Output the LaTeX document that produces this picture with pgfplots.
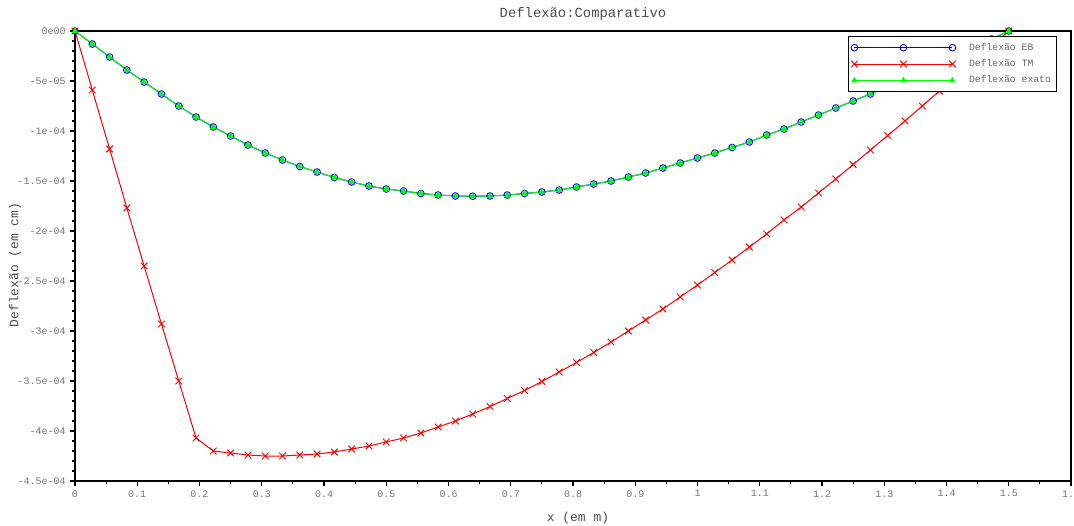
\documentclass[border=0pt]{standalone}
\usepackage{pgfplots}
\pgfplotsset{compat=1.18}
\usepackage{pgfplotstable}
\usepackage{fontspec}
\setmainfont{Liberation Mono}

% deflexao (unidades de 1e-4)
\pgfplotstableread{
x       eb      tm
0       0       0
0.0278  -0.13   -0.59
0.0556  -0.26   -1.18
0.0833  -0.39   -1.77
0.1111  -0.51   -2.35
0.1389  -0.63   -2.93
0.1667  -0.75   -3.50
0.1944  -0.86   -4.07
0.2222  -0.96   -4.20
0.25    -1.05   -4.22
0.2778  -1.14   -4.24
0.3056  -1.22   -4.25
0.3333  -1.29   -4.25
0.3611  -1.355  -4.24
0.3889  -1.41   -4.23
0.4167  -1.465  -4.21
0.4444  -1.51   -4.18
0.4722  -1.55   -4.15
0.5     -1.58   -4.11
0.5278  -1.60   -4.07
0.5556  -1.625  -4.02
0.5833  -1.64   -3.96
0.6111  -1.65   -3.90
0.6389  -1.652  -3.83
0.6667  -1.65   -3.755
0.6944  -1.64   -3.675
0.7222  -1.625  -3.595
0.75    -1.61   -3.505
0.7778  -1.59   -3.41
0.8056  -1.56   -3.315
0.8333  -1.53   -3.215
0.8611  -1.50   -3.11
0.8889  -1.46   -3.00
0.9167  -1.42   -2.89
0.9444  -1.37   -2.78
0.9722  -1.32   -2.66
1.0     -1.27   -2.54
1.0278  -1.22   -2.415
1.0556  -1.165  -2.29
1.0833  -1.11   -2.16
1.1111  -1.04   -2.03
1.1389  -0.98   -1.89
1.1667  -0.91   -1.76
1.1944  -0.84   -1.62
1.2222  -0.77   -1.48
1.25    -0.70   -1.335
1.2778  -0.63   -1.19
1.3056  -0.555  -1.045
1.3333  -0.48   -0.90
1.3611  -0.40   -0.75
1.3889  -0.32   -0.60
1.4167  -0.24   -0.45
1.4444  -0.16   -0.30
1.4722  -0.08   -0.15
1.5     0       0
}\deflex

\begin{document}
\begin{tikzpicture}
\begin{axis}[
  scale only axis,
  width=747pt, height=337.5pt,
  xmin=0, xmax=1.6, ymin=-4.5, ymax=0,
  axis line style={black, line width=1.1pt},
  xtick={0,0.1,...,1.6},
  xticklabels={0,0.1,0.2,0.3,0.4,0.5,0.6,0.7,0.8,0.9,1,1.1,1.2,1.3,1.4,1.5,1.6},
  ytick={-4.5,-4,-3.5,-3,-2.5,-2,-1.5,-1,-0.5,0},
  yticklabels={-4.5e-04,-4e-04,-3.5e-04,-3e-04,-2.5e-04,-2e-04,-1.5e-04,-1e-04,-5e-05,0e00},
  minor x tick num=1, minor y tick num=4,
  xtick pos=lower, ytick pos=left,
  tick align=outside,
  major tick length=3.5pt, minor tick length=2pt,
  tick style={black, line width=0.8pt},
  tick label style={color=black!55, font=\fontsize{7.5}{8}\selectfont},
  title={Deflexão:Comparativo},
  every axis title/.style={at={(axis description cs:0.51,1.0289)}, anchor=base, color=black!70, font=\fontsize{10.4}{12}\selectfont},
  xlabel={x (em m)},
  xlabel style={at={(axis description cs:0.505,-0.0889)}, anchor=base, color=black!70, font=\fontsize{9.7}{11}\selectfont},
  ylabel={Deflexão (em cm)},
  ylabel style={at={(axis description cs:-0.0602,0.48)}, anchor=center, color=black!70, font=\fontsize{9.7}{11}\selectfont},
  legend style={at={(axis description cs:0.776,0.989)}, anchor=north west, draw=black, line width=0.8pt,
    fill=white, font=\fontsize{7.3}{8.5}\selectfont, text=black!60, inner xsep=2pt, inner ysep=3pt, row sep=1.5pt,
    /tikz/every odd column/.append style={column sep=8pt}},
  legend cell align=left,
  legend image code/.code={\draw[#1] plot coordinates {(3pt,0pt) (39.75pt,0pt) (76.5pt,0pt)};},
]
\addplot[blue, line width=0.75pt, mark=o, mark size=2.5pt, mark options={solid, line width=0.7pt}] table[x=x, y=eb] {\deflex};
\addplot[red, line width=0.75pt, mark=x, mark size=3.5pt, mark options={line width=0.7pt}] table[x=x, y=tm] {\deflex};
\addplot[green, line width=0.75pt, mark=triangle*, mark size=2pt] table[x=x, y=eb] {\deflex};
\legend{Deflexão EB, Deflexão TM, Deflexão exato}
\end{axis}
\pgfresetboundingbox
\path[use as bounding box] ([xshift=-56.25pt,yshift=-33pt]current axis.south west) rectangle ([xshift=2.25pt,yshift=23.25pt]current axis.north east);
\end{tikzpicture}
\end{document}
